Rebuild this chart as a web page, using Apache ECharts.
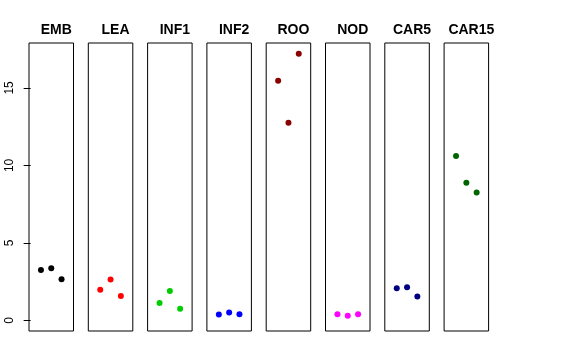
<!DOCTYPE html>
<html>
<head>
<meta charset="utf-8">
<script src="https://cdn.jsdelivr.net/npm/echarts@6/dist/echarts.min.js"></script>
<style>html,body{margin:0;padding:0;background:#fff}#c{width:576px;height:360px}</style>
</head>
<body>
<div id="c"></div>
<script>
const panels = ['EMB', 'LEA', 'INF1', 'INF2', 'ROO', 'NOD', 'CAR5', 'CAR15'];
const colors = ['#000000', '#FF0000', '#00CD00', '#0000FF', '#8B0000', '#FF00FF', '#000080', '#006400'];
const xPos = [1, 2, 3];
const yEMB = [3.25, 3.36, 2.65];
const yLEA = [1.98, 2.63, 1.57];
const yINF1 = [1.12, 1.90, 0.75];
const yINF2 = [0.37, 0.50, 0.39];
const yROO = [15.47, 12.75, 17.20];
const yNOD = [0.39, 0.30, 0.39];
const yCAR5 = [2.07, 2.13, 1.53];
const yCAR15 = [10.60, 8.88, 8.25];
const yTicks = [0, 5, 10, 15];
const values = [yEMB, yLEA, yINF1, yINF2, yROO, yNOD, yCAR5, yCAR15];

const gLeft0 = 29, gPitch = 59.3, gW = 44.5, gTop = 43, gH = 288;
const grids = [], xAxes = [], yAxes = [], series = [], titles = [];
panels.forEach((name, i) => {
  const l = gLeft0 + i * gPitch;
  grids.push({left: l, top: gTop, width: gW, height: gH, show: true, borderColor: '#000', borderWidth: 1, backgroundColor: 'transparent'});
  xAxes.push({gridIndex: i, type: 'value', min: -0.16, max: 4.16, show: false});
  const first = i === 0;
  yAxes.push({
    gridIndex: i, type: 'value', min: -0.69, max: 17.9,
    show: first,
    axisLine: {show: false},
    splitLine: {show: false},
    axisTick: {show: first, length: 7, lineStyle: {color: '#000'}, customValues: yTicks},
    axisLabel: {show: first, rotate: 90, margin: 13, color: '#000', fontSize: 12,
      fontFamily: 'Liberation Sans, Arial, sans-serif', customValues: yTicks}
  });
  series.push({
    type: 'scatter', xAxisIndex: i, yAxisIndex: i,
    data: xPos.map((x, k) => [x, values[i][k]]),
    symbolSize: 6, itemStyle: {color: colors[i], opacity: 1}, silent: true
  });
  titles.push({text: name, left: l + gW / 2, top: 18, textAlign: 'center',
    textStyle: {fontSize: 14, fontWeight: 'bold', color: '#000', fontFamily: 'Liberation Sans, Arial, sans-serif'}});
});

const chart = echarts.init(document.getElementById('c'), null, {renderer: 'canvas'});
chart.setOption({
  animation: false,
  title: titles,
  grid: grids,
  xAxis: xAxes,
  yAxis: yAxes,
  series: series
});
</script>
</body>
</html>
